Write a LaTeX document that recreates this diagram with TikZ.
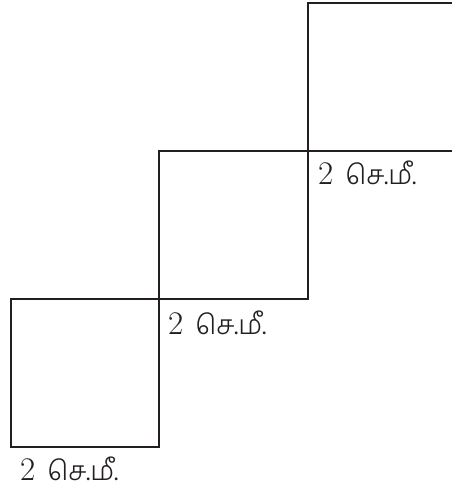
\documentclass[tikz,border=0pt]{standalone}
\usepackage{fontspec}
\newfontfamily\tamilfont[Script=Tamil]{Hind Madurai Light}
\definecolor{ink}{HTML}{231F20}
\newcommand{\cmlabel}{{\fontsize{33}{36}\selectfont 2}\hspace{12pt}{\tamilfont\fontsize{27}{30}\selectfont செ.மீ.}}
\begin{document}
\begin{tikzpicture}[x=1pt,y=-1pt,
  edge/.style={draw=ink,line width=2.5pt,line join=miter},
  lbl/.style={anchor=base west,inner sep=0pt,text=ink}]
\useasboundingbox (0,0) rectangle (451,494);
% bottom square
\draw[edge] (11,299) rectangle (159,447);
% middle square
\draw[edge] (159,299) -- (159,151) -- (308,151) -- (308,299) -- cycle;
% top square (right side beyond the page)
\draw[edge] (460,3) -- (308,3) -- (308,151) -- (460,151);
\node[lbl] (l1) at (20,480) {\cmlabel};
\node[lbl] (l2) at (168,334) {\cmlabel};
\node[lbl] (l3) at (318,184) {\cmlabel};
\end{tikzpicture}
\end{document}
